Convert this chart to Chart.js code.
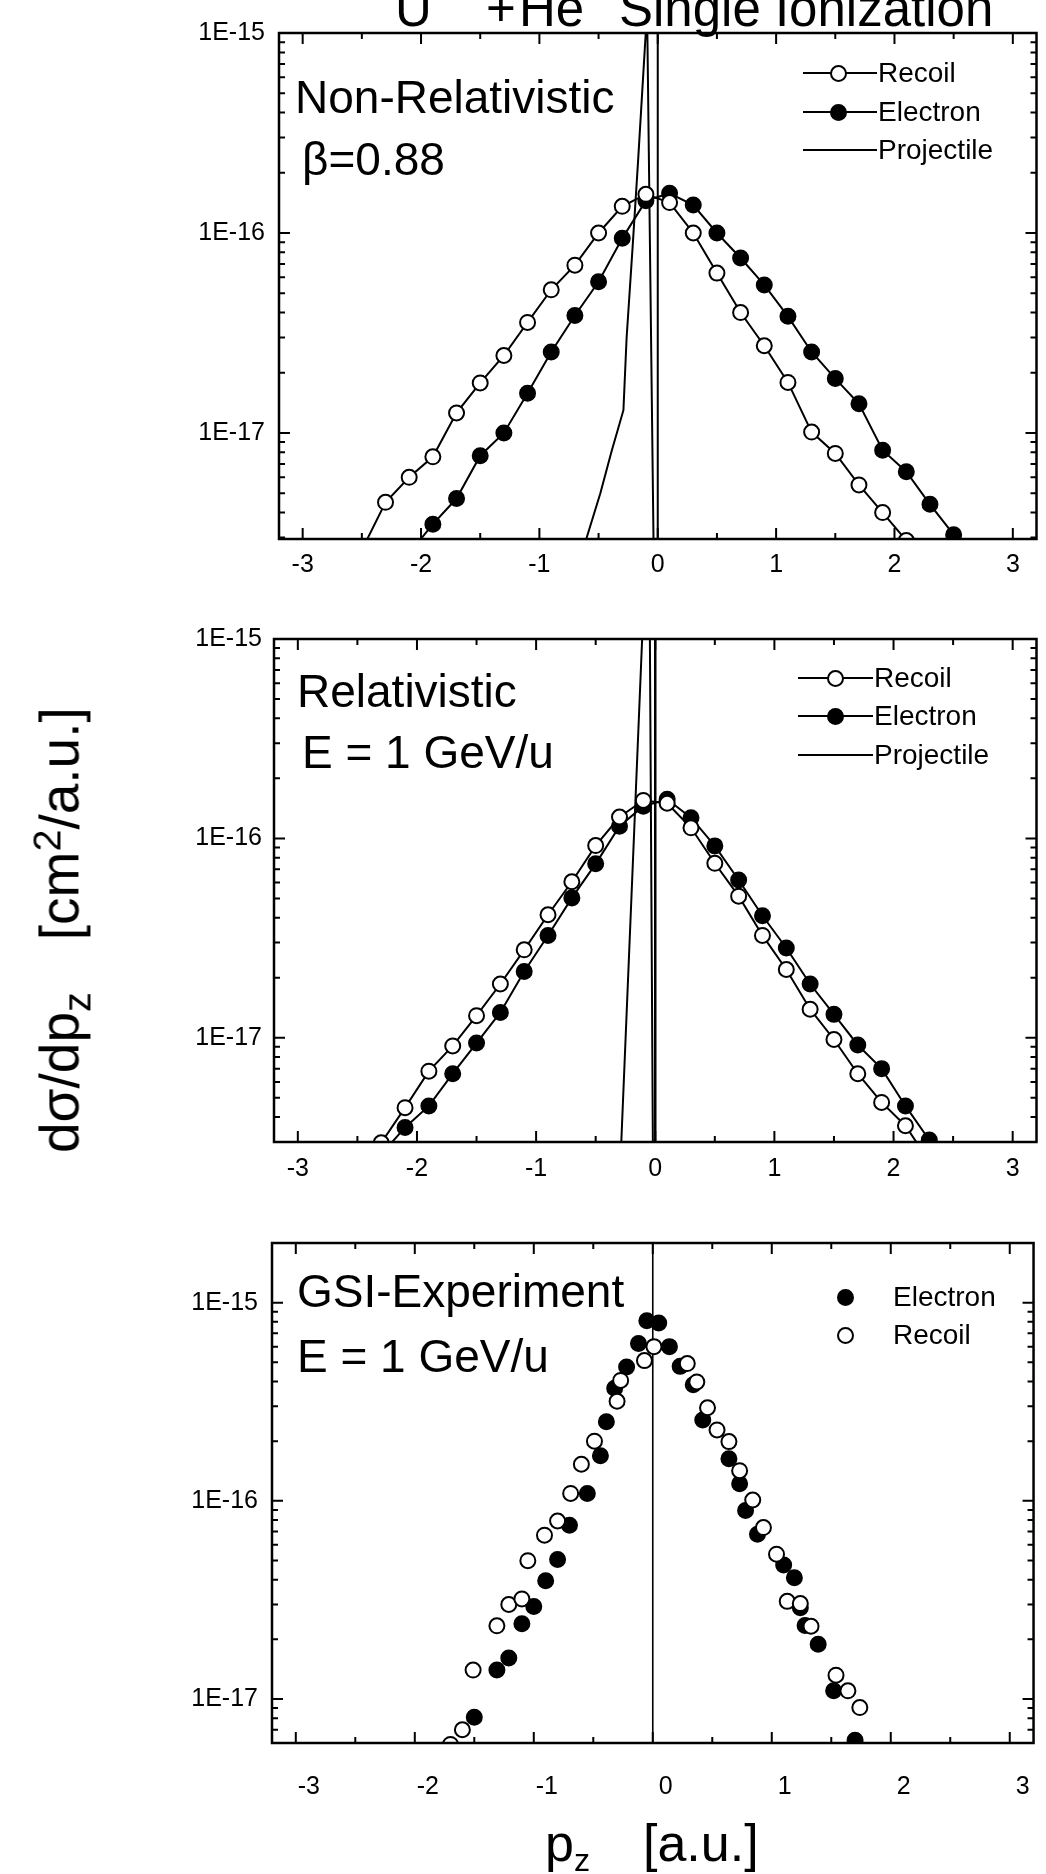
<!DOCTYPE html>
<html>
<head>
<meta charset="utf-8">
<title>U92+ + He Single Ionization</title>
<script src="https://cdn.jsdelivr.net/npm/chart.js@4.4.1/dist/chart.umd.min.js"></script>
<style>
html,body{margin:0;padding:0;background:#fff;}
body{position:relative;width:1046px;height:1874px;overflow:hidden;font-family:"Liberation Sans",Arial,Helvetica,sans-serif;color:#000;}
canvas{position:absolute;left:0;}
.t{position:absolute;white-space:nowrap;line-height:1;}
.sub{position:relative;top:0.32em;font-size:0.62em;}
.sub2{position:relative;top:0.3em;font-size:0.72em;}
.sup{position:relative;top:-0.45em;font-size:0.72em;}
.lg-line{position:absolute;height:2px;background:#000;}
.lg-dot{position:absolute;box-sizing:border-box;border:2px solid #000;border-radius:50%;background:#fff;}
.lg-dot.f{background:#000;}
</style>
</head>
<body>
<canvas id="c1" width="1046" height="600" style="top:0;width:1046px;height:600px"></canvas>
<canvas id="c2" width="1046" height="600" style="top:600px;width:1046px;height:600px"></canvas>
<canvas id="c3" width="1046" height="674" style="top:1200px;width:1046px;height:674px"></canvas>
<script>
// ---------------- axis ticks ----------------
const xTickValues = [-3, -2, -1, 0, 1, 2, 3];
const xTickLabels = ['-3', '-2', '-1', '0', '1', '2', '3'];
const xMinorValues = [-2.5, -1.5, -0.5, 0.5, 1.5, 2.5];
const yTickValues = [1e-17, 1e-16, 1e-15];
const yTickLabels = ['1E-17', '1E-16', '1E-15'];

// ---------------- panel 1 : Non-Relativistic, beta = 0.88 ----------------
const nrRecoilX = [-2.5, -2.3, -2.1, -1.9, -1.7, -1.5, -1.3, -1.1, -0.9, -0.7, -0.5, -0.3, -0.1, 0.1, 0.3, 0.5, 0.7, 0.9, 1.1, 1.3, 1.5, 1.7, 1.9, 2.1, 2.3];
const nrRecoilY = [2.6e-18, 4.5e-18, 6.0e-18, 7.6e-18, 1.26e-17, 1.78e-17, 2.44e-17, 3.57e-17, 5.2e-17, 6.9e-17, 1.0e-16, 1.36e-16, 1.56e-16, 1.42e-16, 1.0e-16, 6.3e-17, 4.0e-17, 2.73e-17, 1.79e-17, 1.01e-17, 7.9e-18, 5.5e-18, 4.0e-18, 2.9e-18, 2.0e-18];
const nrElectronX = [-2.1, -1.9, -1.7, -1.5, -1.3, -1.1, -0.9, -0.7, -0.5, -0.3, -0.1, 0.1, 0.3, 0.5, 0.7, 0.9, 1.1, 1.3, 1.5, 1.7, 1.9, 2.1, 2.3, 2.5, 2.7];
const nrElectronY = [2.5e-18, 3.5e-18, 4.7e-18, 7.7e-18, 1.0e-17, 1.58e-17, 2.54e-17, 3.87e-17, 5.7e-17, 9.4e-17, 1.45e-16, 1.58e-16, 1.38e-16, 1.0e-16, 7.5e-17, 5.5e-17, 3.83e-17, 2.54e-17, 1.87e-17, 1.40e-17, 8.2e-18, 6.4e-18, 4.4e-18, 3.1e-18, 2.1e-18];
const nrProjX = [-0.66, -0.60, -0.485, -0.39, -0.29, -0.263, -0.213, -0.166, -0.09, -0.036, -0.03];
const nrProjY = [2.2e-18, 3.0e-18, 5.0e-18, 8.1e-18, 1.3e-17, 3.0e-17, 8.4e-17, 2.3e-16, 1.3e-15, 3.0e-18, 1.0e-18];

// ---------------- panel 2 : Relativistic, E = 1 GeV/u ----------------
const relRecoilX = [-2.5, -2.3, -2.1, -1.9, -1.7, -1.5, -1.3, -1.1, -0.9, -0.7, -0.5, -0.3, -0.1, 0.1, 0.3, 0.5, 0.7, 0.9, 1.1, 1.3, 1.5, 1.7, 1.9, 2.1, 2.3];
const relRecoilY = [2.0e-18, 2.97e-18, 4.46e-18, 6.8e-18, 9.1e-18, 1.29e-17, 1.86e-17, 2.76e-17, 4.14e-17, 6.06e-17, 9.2e-17, 1.28e-16, 1.55e-16, 1.5e-16, 1.13e-16, 7.5e-17, 5.13e-17, 3.26e-17, 2.2e-17, 1.39e-17, 9.8e-18, 6.6e-18, 4.74e-18, 3.62e-18, 2.4e-18];
const relElectronX = [-2.3, -2.1, -1.9, -1.7, -1.5, -1.3, -1.1, -0.9, -0.7, -0.5, -0.3, -0.1, 0.1, 0.3, 0.5, 0.7, 0.9, 1.1, 1.3, 1.5, 1.7, 1.9, 2.1, 2.3, 2.5];
const relElectronY = [2.6e-18, 3.55e-18, 4.55e-18, 6.6e-18, 9.4e-18, 1.34e-17, 2.15e-17, 3.26e-17, 5.03e-17, 7.45e-17, 1.15e-16, 1.45e-16, 1.57e-16, 1.27e-16, 9.17e-17, 6.18e-17, 4.09e-17, 2.82e-17, 1.86e-17, 1.31e-17, 9.2e-18, 7.0e-18, 4.55e-18, 3.07e-18, 2.0e-18];
const relProjX = [-0.30, -0.285, -0.11, -0.075, -0.045, -0.02, -0.015];
const relProjY = [2.0e-18, 3.0e-18, 1.0e-15, 1.6e-15, 1.0e-15, 3.0e-18, 1.0e-18];

// ---------------- panel 3 : GSI-Experiment, E = 1 GeV/u ----------------
const gsiElectronX = [-1.50, -1.31, -1.21, -1.10, -1.00, -0.90, -0.80, -0.70, -0.55, -0.44, -0.39, -0.32, -0.22, -0.12, -0.05, 0.05, 0.14, 0.23, 0.34, 0.42, 0.64, 0.73, 0.78, 0.88, 1.10, 1.19, 1.24, 1.28, 1.39, 1.52, 1.70];
const gsiElectronY = [8.1e-18, 1.40e-17, 1.61e-17, 2.40e-17, 2.93e-17, 3.95e-17, 5.06e-17, 7.53e-17, 1.09e-16, 1.69e-16, 2.51e-16, 3.70e-16, 4.74e-16, 6.23e-16, 8.1e-16, 7.9e-16, 6.0e-16, 4.77e-16, 3.85e-16, 2.56e-16, 1.63e-16, 1.22e-16, 8.94e-17, 6.79e-17, 4.75e-17, 4.09e-17, 2.89e-17, 2.35e-17, 1.89e-17, 1.10e-17, 6.2e-18];
const gsiRecoilX = [-1.70, -1.60, -1.51, -1.31, -1.21, -1.10, -1.05, -0.91, -0.80, -0.69, -0.60, -0.49, -0.30, -0.27, -0.07, 0.01, 0.29, 0.37, 0.46, 0.54, 0.64, 0.73, 0.84, 0.93, 1.04, 1.13, 1.24, 1.33, 1.54, 1.64, 1.74];
const gsiRecoilY = [5.9e-18, 7.0e-18, 1.40e-17, 2.34e-17, 3.0e-17, 3.2e-17, 4.99e-17, 6.71e-17, 7.91e-17, 1.09e-16, 1.53e-16, 2.0e-16, 3.18e-16, 4.05e-16, 5.1e-16, 6.0e-16, 4.93e-16, 3.98e-16, 2.95e-16, 2.28e-16, 1.99e-16, 1.42e-16, 1.01e-16, 7.33e-17, 5.38e-17, 3.11e-17, 3.03e-17, 2.33e-17, 1.32e-17, 1.10e-17, 9.06e-18];

// reference line at p_z = 0
const zeroLineX = [0, 0];
const zeroLineY = [1e-19, 1e-13];

// ---------------- helpers ----------------
Chart.defaults.font.family = "'Liberation Sans', Arial, Helvetica, sans-serif";
Chart.defaults.color = '#000';

const pts = (xs, ys) => xs.map((x, i) => ({ x: x, y: ys[i] }));

const lineWithMarkers = (label, xs, ys, filled) => ({
  label, data: pts(xs, ys), showLine: true, borderColor: '#000', borderWidth: 2,
  pointRadius: 7.5, pointBorderWidth: 2, pointBorderColor: '#000',
  pointBackgroundColor: filled ? '#000' : '#fff', clip: 0
});
const plainLine = (label, xs, ys, w) => ({
  label, data: pts(xs, ys), showLine: true, borderColor: '#000', borderWidth: w,
  pointRadius: 0, clip: 0
});
const markersOnly = (label, xs, ys, filled) => ({
  label, data: pts(xs, ys), showLine: false,
  pointRadius: 7.5, pointBorderWidth: 2, pointBorderColor: '#000',
  pointBackgroundColor: filled ? '#000' : '#fff', clip: 0
});

const framePlugin = {
  id: 'frame',
  afterDatasetsDraw(chart) {
    const { ctx, chartArea: a, scales: { x, y } } = chart;
    ctx.save();
    ctx.strokeStyle = '#000';
    ctx.lineWidth = 2;
    ctx.beginPath();
    const vtick = (px, len) => {
      ctx.moveTo(px, a.bottom); ctx.lineTo(px, a.bottom - len);
      ctx.moveTo(px, a.top); ctx.lineTo(px, a.top + len);
    };
    const htick = (py, len) => {
      ctx.moveTo(a.left, py); ctx.lineTo(a.left + len, py);
      ctx.moveTo(a.right, py); ctx.lineTo(a.right - len, py);
    };
    xTickValues.forEach(v => vtick(x.getPixelForValue(v), 11));
    xMinorValues.forEach(v => vtick(x.getPixelForValue(v), 6));
    const lo = Math.floor(Math.log10(y.min)), hi = Math.ceil(Math.log10(y.max));
    for (let k = lo; k <= hi; k++) {
      for (let m = 1; m <= 9; m++) {
        const v = m * Math.pow(10, k);
        if (v <= y.min * 1.0001 || v >= y.max * 0.9999) continue;
        htick(y.getPixelForValue(v), m === 1 ? 11 : 6);
      }
    }
    ctx.stroke();
    ctx.lineWidth = 2.5;
    ctx.strokeRect(a.left, a.top, a.right - a.left, a.bottom - a.top);
    ctx.restore();
  }
};

function makeChart(id, cfg) {
  return new Chart(document.getElementById(id), {
    type: 'scatter',
    data: { datasets: cfg.datasets },
    options: {
      responsive: false, animation: false, devicePixelRatio: 1,
      layout: { padding: { top: cfg.padTop, right: cfg.padRight, left: 0, bottom: 0 } },
      plugins: { legend: { display: false }, tooltip: { enabled: false } },
      scales: {
        x: {
          type: 'linear', min: -3.2, max: 3.2,
          grid: { display: false, drawTicks: false }, border: { display: false },
          afterBuildTicks: s => { s.ticks = xTickValues.map(v => ({ value: v })); },
          afterFit: s => { s.height = cfg.xAxisHeight; },
          ticks: {
            callback: (v, i) => xTickLabels[i], padding: cfg.xPad, labelOffset: cfg.xLabelOffset,
            font: { size: 25 }, color: '#000', maxRotation: 0, autoSkip: false
          }
        },
        y: {
          type: 'logarithmic', min: cfg.yMin, max: cfg.yMax,
          grid: { display: false, drawTicks: false }, border: { display: false },
          afterBuildTicks: s => { s.ticks = yTickValues.map(v => ({ value: v })); },
          afterFit: s => { s.width = cfg.yAxisWidth; },
          ticks: {
            callback: (v, i) => yTickLabels[i], padding: cfg.yPad,
            font: { size: 25 }, color: '#000', autoSkip: false
          }
        }
      }
    },
    plugins: [framePlugin]
  });
}

makeChart('c1', {
  padTop: 33, padRight: 1, xAxisHeight: 61, yAxisWidth: 279, xPad: 11, xLabelOffset: 0, yPad: 14,
  yMin: 2.95e-18, yMax: 1e-15,
  datasets: [
    lineWithMarkers('Recoil', nrRecoilX, nrRecoilY, false),
    lineWithMarkers('Electron', nrElectronX, nrElectronY, true),
    plainLine('Projectile', nrProjX, nrProjY, 2),
    plainLine('p_z = 0', zeroLineX, zeroLineY, 2)
  ]
});
makeChart('c2', {
  padTop: 39, padRight: 7, xAxisHeight: 58, yAxisWidth: 274, xPad: 12, xLabelOffset: 0, yPad: 12,
  yMin: 3.0e-18, yMax: 1e-15,
  datasets: [
    lineWithMarkers('Recoil', relRecoilX, relRecoilY, false),
    lineWithMarkers('Electron', relElectronX, relElectronY, true),
    plainLine('Projectile', relProjX, relProjY, 2),
    plainLine('p_z = 0', zeroLineX, zeroLineY, 2.5)
  ]
});
makeChart('c3', {
  padTop: 43, padRight: 7, xAxisHeight: 131, yAxisWidth: 272, xPad: 29, xLabelOffset: 13, yPad: 14,
  yMin: 6.1e-18, yMax: 2.0e-15,
  datasets: [
    markersOnly('Recoil', gsiRecoilX, gsiRecoilY, false),
    markersOnly('Electron', gsiElectronX, gsiElectronY, true),
    plainLine('p_z = 0', zeroLineX, zeroLineY, 1.6)
  ]
});

// ---------------- text overlays ----------------
function addText(html, left, baseline, size) {
  const d = document.createElement('div');
  d.className = 't';
  d.style.fontSize = size + 'px';
  d.style.left = left + 'px';
  d.style.top = (baseline - 0.8465 * size) + 'px';
  d.innerHTML = html;
  document.body.appendChild(d);
  return d;
}
function addLegendRow(label, cy, lineStart, dotX, lineEnd, textX, filled, withLine) {
  if (withLine) {
    const l = document.createElement('div');
    l.className = 'lg-line';
    l.style.left = lineStart + 'px'; l.style.width = (lineEnd - lineStart) + 'px';
    l.style.top = (cy - 1) + 'px';
    document.body.appendChild(l);
  }
  if (filled !== null) {
    const d = document.createElement('div');
    d.className = 'lg-dot' + (filled ? ' f' : '');
    d.style.width = '17px'; d.style.height = '17px';
    d.style.left = (dotX - 8.5) + 'px'; d.style.top = (cy - 8.5) + 'px';
    document.body.appendChild(d);
  }
  addText(label, textX, cy + 10, 28);
}

// title (top partly outside the picture)
addText('U', 395, 26, 51);
addText('92+', 424, -4, 31);
addText('+', 486, 26, 51);
addText('He', 519, 26, 51);
addText('Single Ionization', 619, 26, 51);

// panel annotations
addText('Non-Relativistic', 295, 113, 46);
addText('&beta;=0.88', 302, 175, 46);
addText('Relativistic', 297, 707, 46);
addText('E = 1 GeV/u', 302, 768, 46);
addText('GSI-Experiment', 297, 1307, 46);
addText('E = 1 GeV/u', 297, 1372, 46);

// legends
addLegendRow('Recoil', 73, 803, 838, 877, 878, false, true);
addLegendRow('Electron', 112, 803, 838, 877, 878, true, true);
addLegendRow('Projectile', 150, 803, 838, 877, 878, null, true);
addLegendRow('Recoil', 678, 798, 835, 873, 874, false, true);
addLegendRow('Electron', 716, 798, 835, 873, 874, true, true);
addLegendRow('Projectile', 755, 798, 835, 873, 874, null, true);
addLegendRow('Electron', 1297, 0, 845, 0, 893, true, false);
addLegendRow('Recoil', 1335, 0, 845, 0, 893, false, false);

// axis titles
addText('p<span class="sub">z</span>', 545, 1861, 52);
addText('[a.u.]', 643, 1861, 52);
const yt = document.createElement('div');
yt.className = 't';
yt.style.fontSize = '55px';
yt.style.left = '0px'; yt.style.top = '0px';
yt.style.transformOrigin = '0 0';
yt.innerHTML = 'd&sigma;/dp<span class="sub2">z</span><span style="display:inline-block;width:52px"></span>[cm<span class="sup">2</span>/a.u.]';
yt.style.transform = 'translate(' + (79 - 0.8465 * 55) + 'px, 1153px) rotate(-90deg)';
document.body.appendChild(yt);
</script>
</body>
</html>
